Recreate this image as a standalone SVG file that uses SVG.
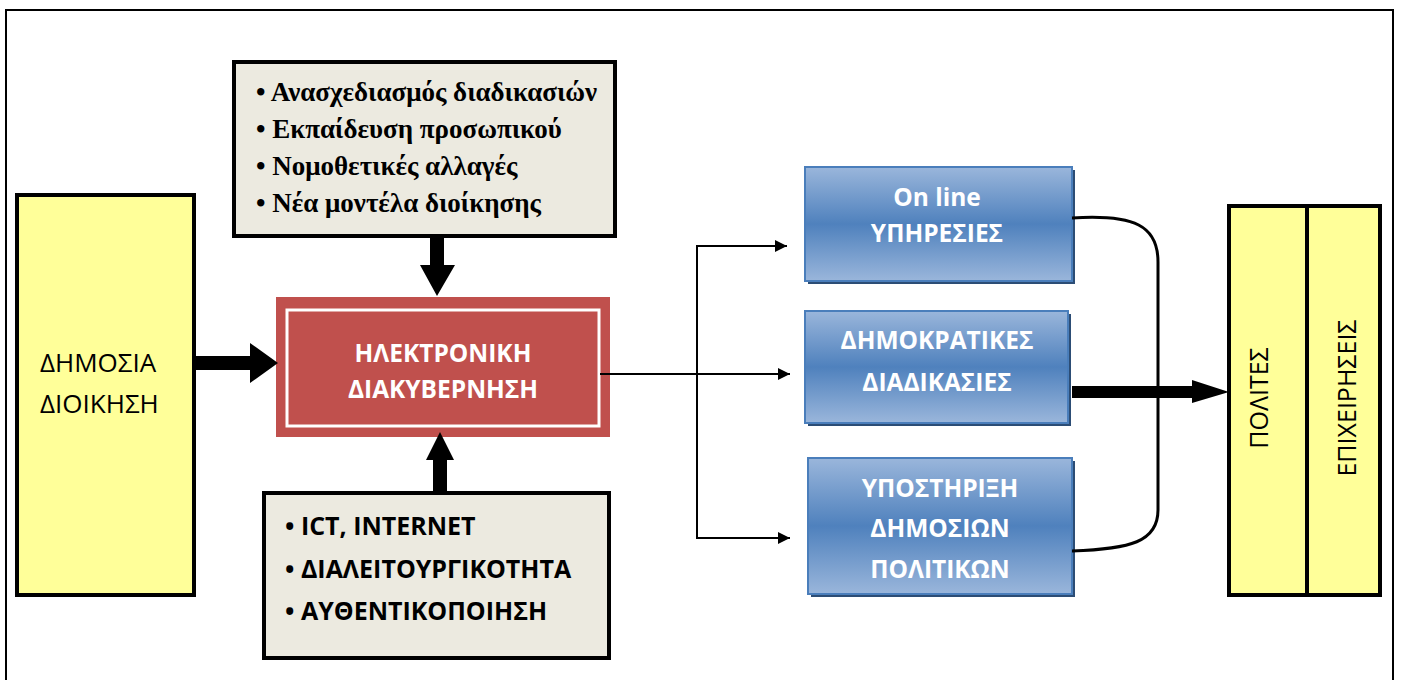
<svg xmlns="http://www.w3.org/2000/svg" width="1401" height="680" viewBox="0 0 1401 680">
<defs>
<linearGradient id="blueGrad" x1="0" y1="0" x2="0" y2="1">
<stop offset="0" stop-color="#9AB6DB"/>
<stop offset="0.5" stop-color="#4F81BD"/>
<stop offset="1" stop-color="#9AB6DB"/>
</linearGradient>
<marker id="arr" viewBox="0 0 10 10" refX="10" refY="5" markerWidth="6" markerHeight="6" markerUnits="strokeWidth" orient="auto">
<path d="M0,0 L10,5 L0,10 Z" fill="#000"/>
</marker>
</defs>
<style>
.frame{fill:none;stroke:#000;stroke-width:2}
.yellow{fill:#FFFF99;stroke:#000;stroke-width:4}
.beige{fill:#ECEAE0;stroke:#000;stroke-width:4}
.blue{fill:url(#blueGrad);stroke:#4A7EBB;stroke-width:2}
.shadow{fill:#2C4D75}
.serifb{font-family:"Liberation Serif",serif;font-weight:bold;font-size:27px;fill:#000}
.sansb{font-family:"Open Sans","Liberation Sans",sans-serif;font-weight:bold;font-size:25px;fill:#000}
.white{font-family:"Open Sans","Liberation Sans",sans-serif;font-weight:bold;font-size:24.5px;fill:#fff;text-anchor:middle}
.plain{font-family:"Open Sans","Liberation Sans",sans-serif;font-size:26px;fill:#000}
.vert{font-family:"Open Sans","Liberation Sans",sans-serif;font-size:25px;fill:#000;text-anchor:middle}
.thin{fill:none;stroke:#000;stroke-width:2}
</style>
<rect width="1401" height="680" fill="#fff"/>
<path class="frame" d="M6,690 L6,10 L1393,10 L1393,690"/>

<g id="dimosia-dioikisi">
<rect class="yellow" x="17" y="195" width="177" height="400"/>
<text class="plain" x="40" y="372">ΔΗΜΟΣΙΑ</text>
<text class="plain" x="40" y="413">ΔΙΟΙΚΗΣΗ</text>
</g>

<g id="top-factors">
<rect class="beige" x="234" y="62" width="381" height="174"/>
<text class="serifb" x="256" y="101">• Ανασχεδιασμός διαδικασιών</text>
<text class="serifb" x="256" y="138">• Εκπαίδευση προσωπικού</text>
<text class="serifb" x="256" y="175">• Νομοθετικές αλλαγές</text>
<text class="serifb" x="256" y="212">• Νέα μοντέλα διοίκησης</text>
</g>

<g id="ilektroniki">
<rect x="276" y="297" width="334" height="140" fill="#C0504D"/>
<rect x="287" y="310" width="312" height="116" fill="none" stroke="#fff" stroke-width="3"/>
<text class="white" x="443" y="362">ΗΛΕΚΤΡΟΝΙΚΗ</text>
<text class="white" x="443" y="398">ΔΙΑΚΥΒΕΡΝΗΣΗ</text>
</g>

<g id="bottom-factors">
<rect class="beige" x="264" y="493" width="345" height="165"/>
<text class="sansb" x="285" y="535">• ICT, INTERNET</text>
<text class="sansb" x="285" y="578">• ΔΙΑΛΕΙΤΟΥΡΓΙΚΟΤΗΤΑ</text>
<text class="sansb" x="285" y="620">• ΑΥΘΕΝΤΙΚΟΠΟΙΗΣΗ</text>
</g>

<g id="online">
<rect class="shadow" x="808" y="170" width="267" height="114"/>
<rect class="blue" x="805" y="167" width="267" height="114"/>
<text class="white" x="937" y="206">On line</text>
<text class="white" x="937" y="242">ΥΠΗΡΕΣΙΕΣ</text>
</g>

<g id="dimokratikes">
<rect class="shadow" x="808" y="314" width="263" height="112"/>
<rect class="blue" x="805" y="311" width="263" height="112"/>
<text class="white" x="937" y="349">ΔΗΜΟΚΡΑΤΙΚΕΣ</text>
<text class="white" x="937" y="391">ΔΙΑΔΙΚΑΣΙΕΣ</text>
</g>

<g id="ypostirixi">
<rect class="shadow" x="811" y="461" width="264" height="136"/>
<rect class="blue" x="808" y="458" width="264" height="136"/>
<text class="white" x="940" y="497">ΥΠΟΣΤΗΡΙΞΗ</text>
<text class="white" x="940" y="537">ΔΗΜΟΣΙΩΝ</text>
<text class="white" x="940" y="578">ΠΟΛΙΤΙΚΩΝ</text>
</g>

<g id="polites-epixeiriseis">
<rect class="yellow" x="1229" y="206" width="151" height="389"/>
<line x1="1307" y1="206" x2="1307" y2="595" stroke="#000" stroke-width="4"/>
<text class="vert" transform="translate(1268,398) rotate(-90)">ΠΟΛΙΤΕΣ</text>
<text class="vert" transform="translate(1356,398) rotate(-90)">ΕΠΙΧΕΙΡΗΣΕΙΣ</text>
</g>

<g id="connectors">
<polygon points="194,356 250,356 250,343 278,363 250,383 250,370 194,370" fill="#000"/>
<polygon points="430,236 444,236 444,265 455,265 437,296 420,265 430,265" fill="#000"/>
<polygon points="433,493 447,493 447,460 454,460 440,432 426,460 433,460" fill="#000"/>
<line class="thin" x1="600" y1="374" x2="790" y2="374" marker-end="url(#arr)"/>
<path class="thin" d="M787,246 L697,246 L697,538 L790,538" marker-end="url(#arr)"/>
<line class="thin" x1="697" y1="246" x2="787" y2="246" marker-end="url(#arr)"/>
<path d="M1072,218 C1135,214 1158,226 1158,262 L1158,510 C1158,542 1130,549 1072,551" fill="none" stroke="#000" stroke-width="3"/>
<polygon points="1072,386 1192,386 1192,380 1229,392 1192,403 1192,398 1072,398" fill="#000"/>
</g>
</svg>
